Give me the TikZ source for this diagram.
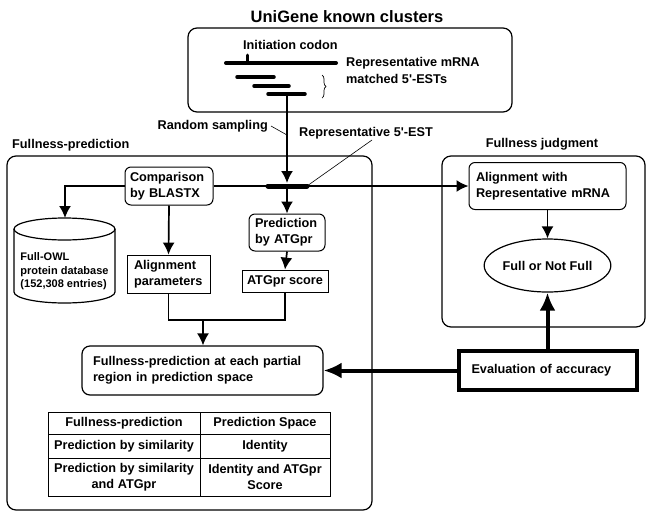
\documentclass[tikz,border=0pt]{standalone}
\usepackage{fontspec}
\setmainfont{Liberation Sans}
\usetikzlibrary{arrows.meta,shapes.geometric,decorations.pathreplacing}
\begin{document}
\begin{tikzpicture}[x=1pt,y=-1pt,
 every node/.style={font=\fontsize{12.7}{16}\selectfont\bfseries, inner sep=0pt},
 rbox/.style={draw, line width=1pt, rounded corners=6pt, align=left},
 sbox/.style={draw, line width=0.8pt, align=left},
 arr/.style={line width=1.7pt, -{Latex[length=12pt,width=12pt]}},
 tarr/.style={line width=4pt, -{Latex[length=18pt,width=16pt]}},
 ln/.style={line width=1.7pt},
 frame/.style={draw, line width=1.2pt, rounded corners=9pt},
 thinln/.style={line width=0.6pt}]
\useasboundingbox (0,0) rectangle (647,512);

% ---------- top: UniGene ----------
\node (title) at (347,17) {\fontsize{16.5}{20}\selectfont UniGene known clusters};
\node[frame, minimum width=324pt, minimum height=84pt] (top) at (350,70) {};
\draw[line width=4pt, line cap=round] (226,63) -- (336,63);
\draw[line width=3pt, line cap=round] (247,63) -- (247,55);
\node[anchor=west] (initcodon) at (243,45) {Initiation codon};
\node[anchor=west] (repmrna) at (346,63) {Representative mRNA};
\node[anchor=west] (matched) at (346,79) {matched 5\textquotesingle-ESTs};
\draw[line width=3.5pt, line cap=round] (237,77) -- (274,77);
\draw[line width=3.5pt, line cap=round] (254,86) -- (289,86);
\draw[line width=3.5pt, line cap=round] (268,94) -- (305,94);
\draw[decorate, decoration={brace, amplitude=4pt}, line width=0.7pt] (322,75) -- (322,98);
\coordinate (estrep) at (287,94);
\coordinate (bar) at (287,186);
\coordinate (barL) at (268,186);
\coordinate (barR) at (307,186);

% leaders
\node[anchor=east] (rs) at (268,126) {Random sampling};
\coordinate (rsend) at (287,135);
\draw[thinln] ([xshift=3pt]rs.east) -- (rsend);
\node[anchor=west] (r5) at (299,133) {Representative 5\textquotesingle-EST};
\coordinate (r5lead) at (372,140);

% ---------- Fullness-prediction frame ----------
\node[anchor=west] (fplabel) at (12,145) {Fullness-prediction};
\node[frame, minimum width=365pt, minimum height=354pt] (fpframe) at (189.5,333) {};

\node[rbox, text width=78pt, inner xsep=5pt, minimum height=38pt] (cmp) at (169,186) {Comparison\\by BLASTX};
\node[rbox, text width=64pt, inner xsep=6pt, minimum height=37pt] (atgp) at (287,232.5) {Prediction\\by ATGpr};
\node[sbox, text width=69pt, inner xsep=7pt, minimum height=38pt] (alp) at (168.5,274) {Alignment\\parameters};
\node[sbox, align=center, minimum width=86pt, minimum height=22pt] (atgs) at (285,281) {ATGpr score};
\node[rbox, line width=1.2pt, rounded corners=8pt, text width=219pt, inner xsep=11pt, minimum height=49pt] (fpr) at (202.5,370.5) {Fullness-prediction at each partial\\region in prediction space};

% database cylinder
\draw[line width=1.2pt] (14,229) -- (14,292) arc[start angle=180, end angle=360, x radius=50.5pt, y radius=11pt] -- (115,229);
\draw[line width=1.2pt] (64.5,229) ellipse [x radius=50.5pt, y radius=11pt];
\coordinate (dbtop) at (65,218);
\node[align=left, font=\fontsize{11}{13.5}\selectfont\bfseries] (db) at (64.5,271.5) {Full-OWL\\protein database\\(152,308 entries)};

% table
\draw[line width=0.8pt] (48,412) rectangle (330,496);
\draw[line width=0.8pt] (200,412) -- (200,496);
\draw[line width=0.8pt] (48,434) -- (330,434);
\draw[line width=0.8pt] (48,458) -- (330,458);
\node (t11) at (124,423) {Fullness-prediction};
\node (t12) at (265,423) {Prediction Space};
\node (t21) at (124,446) {Prediction by similarity};
\node (t22) at (265,446) {Identity};
\node[align=center] (t31) at (124,477) {Prediction by similarity\\and ATGpr};
\node[align=center] (t32) at (265,477) {Identity and ATGpr\\Score};

% ---------- Fullness judgment frame ----------
\node (fjlabel) at (542,144) {Fullness judgment};
\node[frame, minimum width=203pt, minimum height=171pt] (fjframe) at (543.5,241.5) {};
\node[rbox, text width=143pt, inner xsep=7pt, minimum height=47pt] (align) at (547.5,186) {Alignment with\\Representative mRNA};
\node[draw, ellipse, line width=1.2pt, minimum width=119pt, minimum height=53pt] (full) at (547.5,265.5) {Full or Not Full};

\node[draw, line width=4pt, text width=152pt, inner xsep=13pt, minimum height=39pt, align=left] (eval) at (547.5,370.5) {Evaluation of accuracy};

% ---------- connectors ----------
\draw[arr] (estrep) -- ([yshift=3pt]bar);
\draw[arr] (cmp.east) -- (align.west);
\draw[line width=5pt, line cap=round] (barL) -- (barR);
\draw[thinln] (r5lead) -- (barR);
\draw[arr] (cmp.west) -| (dbtop);
\draw[arr] (bar) -- (atgp.north);
\draw[arr] (cmp.south) -- (alp.north);
\draw[arr] (atgp.south) -- (atgs.north);
\coordinate (join) at (203,320);
\draw[ln] (alp.south) -- (alp.south |- join) -- (atgs.south |- join) -- (atgs.south);
\draw[arr] (join) -- (join |- fpr.north);
\draw[arr] (align.south) -- (full.north);
\draw[tarr] (eval.north) -- (full.south);
\draw[tarr] (eval.west) -- (fpr.east);
\end{tikzpicture}
\end{document}
